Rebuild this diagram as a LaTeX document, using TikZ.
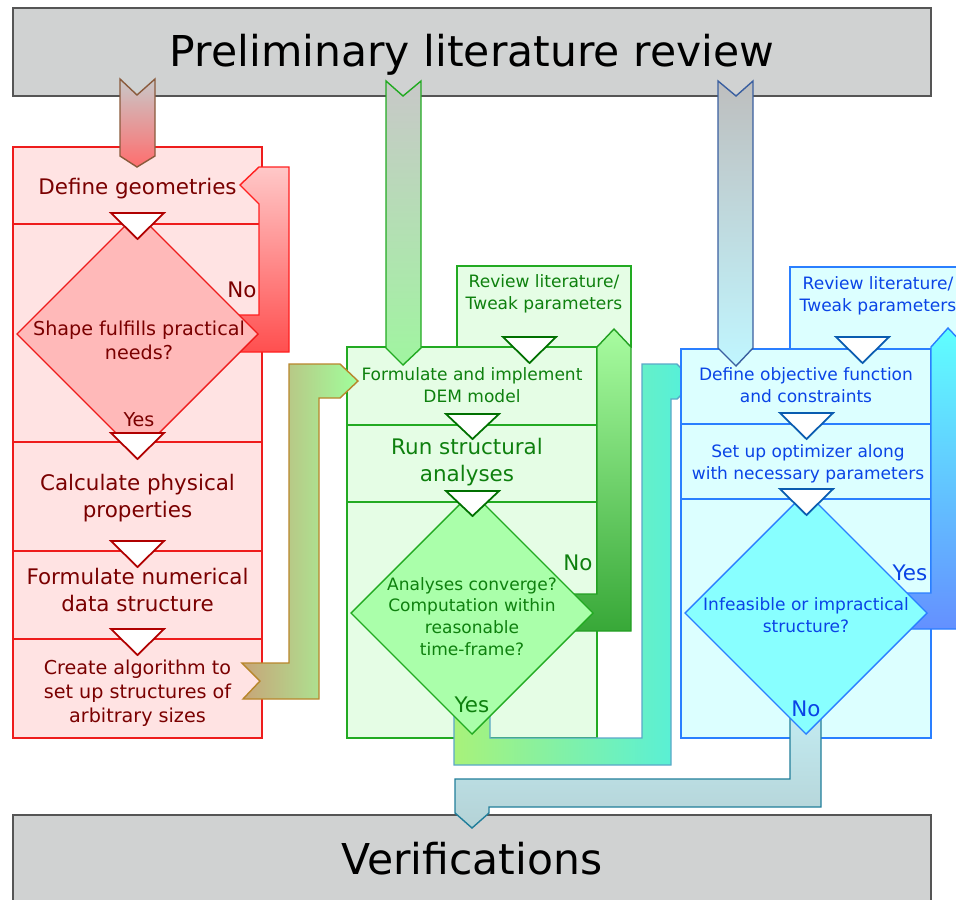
\documentclass[tikz,border=0pt]{standalone}
\usepackage{fontspec}
\setmainfont{DejaVu Sans}

\definecolor{headfill}{HTML}{D0D2D2}
\definecolor{headline}{HTML}{555555}
\definecolor{arrowgray}{HTML}{C8C8C8}
\definecolor{redfill}{HTML}{FFE3E3}
\definecolor{redline}{HTML}{EE1C1C}
\definecolor{redtext}{HTML}{7A0000}
\definecolor{reddiam}{HTML}{FFB9B9}
\definecolor{redtri}{HTML}{B00000}
\definecolor{redarrowline}{HTML}{8A5A3C}
\definecolor{redarrowbot}{HTML}{FF6E6E}
\definecolor{redloopline}{HTML}{FF2020}
\definecolor{redlooptop}{HTML}{FFC8C8}
\definecolor{redloopbot}{HTML}{FF4F4F}
\definecolor{goldline}{HTML}{B8862B}
\definecolor{goldleft}{HTML}{C8A478}
\definecolor{goldright}{HTML}{A0FF9C}
\definecolor{greenfill}{HTML}{E5FDE5}
\definecolor{greenline}{HTML}{22AA22}
\definecolor{greentext}{HTML}{0E800E}
\definecolor{greendiam}{HTML}{AAFFAA}
\definecolor{greentri}{HTML}{007000}
\definecolor{greenarrowbot}{HTML}{A0F5A0}
\definecolor{greenloopline}{HTML}{22A022}
\definecolor{greenlooptop}{HTML}{A8FCA0}
\definecolor{greenloopbot}{HTML}{38A838}
\definecolor{tealline}{HTML}{5AA8C8}
\definecolor{tealleft}{HTML}{A8F27A}
\definecolor{tealright}{HTML}{52F0DE}
\definecolor{bluefill}{HTML}{DCFFFF}
\definecolor{blueline}{HTML}{2A7FFF}
\definecolor{bluetext}{HTML}{0A44E6}
\definecolor{bluediam}{HTML}{88FFFF}
\definecolor{bluetri}{HTML}{0A5CB0}
\definecolor{bluearrowline}{HTML}{3A5FA0}
\definecolor{bluearrowtop}{HTML}{BEBEBE}
\definecolor{bluearrowbot}{HTML}{C0F6FF}
\definecolor{bluelooptop}{HTML}{60FFFF}
\definecolor{blueloopbot}{HTML}{6490FF}
\definecolor{exitline}{HTML}{217E9A}
\definecolor{exittop}{HTML}{C4EEF4}
\definecolor{exitbot}{HTML}{B4D2D6}

\tikzset{
  box_head/.style={draw=headline, fill=headfill, line width=0.8pt},
  box_red/.style={draw=redline, fill=redfill, line width=0.8pt},
  box_green/.style={draw=greenline, fill=greenfill, line width=0.8pt},
  box_blue/.style={draw=blueline, fill=bluefill, line width=0.8pt},
  tri_red/.style={draw=redtri, fill=white, line width=1pt},
  tri_green/.style={draw=greentri, fill=white, line width=1pt},
  tri_blue/.style={draw=bluetri, fill=white, line width=1pt},
  arrow_line/.style={line width=0.8pt, line join=miter},
  txt_head/.style={font=\fontsize{24.2}{29}\selectfont, inner sep=0pt, anchor=base},
  txt_big/.style={font=\fontsize{12.2}{15.1}\selectfont, align=center, inner sep=0pt, anchor=base},
  txt_mid/.style={font=\fontsize{10.9}{13.4}\selectfont, align=center, inner sep=0pt, anchor=base},
  txt_small/.style={font=\fontsize{9.7}{12.3}\selectfont, align=center, inner sep=0pt, anchor=base},
}

\begin{document}
\begin{tikzpicture}[x=0.02cm, y=-0.02cm]
  \useasboundingbox (0,0) rectangle (956,899);
  \clip (0,0) rectangle (956,899);

  % top and bottom bars
  \draw[box_head] (13,8) rectangle (931,96);
  \draw (472,66) node (prelim) [txt_head] {Preliminary literature review};
  \draw[box_head] (13,815) rectangle (931,915);

  % red column
  \draw[box_red] (13,147) rectangle (262,738);
  \draw[redline, line width=0.8pt] (13,224) -- (262,224);
  \draw[redline, line width=0.8pt] (13,442) -- (262,442);
  \draw[redline, line width=0.8pt] (13,551) -- (262,551);
  \draw[redline, line width=0.8pt] (13,639) -- (262,639);
  \draw[arrow_line, draw=redarrowline, top color=arrowgray, bottom color=redarrowbot]
        (120,79) -- (137,95) -- (155,79) -- (155,156) -- (137,167) -- (120,156) -- cycle;
  \draw[arrow_line, draw=redloopline, top color=redlooptop, bottom color=redloopbot]
        (289,167) -- (259,167) -- (240,185) -- (259,204) -- (259,315) -- (225,315) -- (225,352) -- (289,352) -- cycle;
  \draw[redline, fill=reddiam, line width=0.8pt] (17,334) -- (137.5,213.5) -- (258,334) -- (137.5,454.5) -- cycle;
  \draw[tri_red] (111,213) -- (164,213) -- (137.5,239) -- cycle;
  \draw[tri_red] (111,433) -- (164,433) -- (137.5,459) -- cycle;
  \draw[tri_red] (111,541) -- (164,541) -- (137.5,567) -- cycle;
  \draw[tri_red] (111,629) -- (164,629) -- (137.5,655) -- cycle;
  \begin{scope}[text=redtext]
    \draw (137.5,194) node (define_geo) [txt_big] {Define geometries};
    \draw (139,359) node (shape_q) [txt_mid] {Shape fulfills practical\\needs?};
    \draw (242,297) node (no_r) [txt_big] {No};
    \draw (139,426) node (yes_r) [txt_mid] {Yes};
    \draw (137.5,517) node (calc_phys) [txt_big] {Calculate physical\\properties};
    \draw (137.5,611) node (form_num) [txt_big] {Formulate numerical\\data structure};
    \draw (137.5,722) node (create_alg) [txt_mid] {Create algorithm to\\set up structures of\\arbitrary sizes};
  \end{scope}

  % green column
  \draw[box_green] (457,266) rectangle (631,347);
  \draw[box_green] (347,347) rectangle (597,738);
  \draw[greenline, line width=0.8pt] (347,425) -- (597,425);
  \draw[greenline, line width=0.8pt] (347,502) -- (597,502);
  \draw[arrow_line, draw=greenline, top color=arrowgray, bottom color=greenarrowbot]
        (386,81) -- (403,96) -- (421,81) -- (421,348) -- (403,365) -- (386,348) -- cycle;
  \draw[arrow_line, draw=greenloopline, top color=greenlooptop, bottom color=greenloopbot]
        (597,347) -- (614,329) -- (631,347) -- (631,631) -- (560,631) -- (560,594) -- (597,594) -- cycle;
  \draw[arrow_line, draw=goldline, left color=goldleft, right color=goldright]
        (289,364) -- (340,364) -- (358,381) -- (340,398) -- (319,398) -- (319,699) -- (243,699) -- (260,681) -- (242,663) -- (289,663) -- cycle;
  \draw[arrow_line, draw=tealline, left color=tealleft, right color=tealright]
        (454,700) -- (454,765) -- (671,765) -- (671,399) -- (677,399) -- (694,382) -- (677,364) -- (642,364) -- (642,738) -- (490,738) -- (490,700) -- cycle;
  \draw[greenline, fill=greendiam, line width=0.8pt] (351,613) -- (472,492) -- (593,613) -- (472,734) -- cycle;
  \draw[tri_green] (503,337) -- (556,337) -- (529.5,363) -- cycle;
  \draw[tri_green] (446,414) -- (499,414) -- (472.5,439) -- cycle;
  \draw[tri_green] (446,491) -- (499,491) -- (472.5,516) -- cycle;
  \begin{scope}[text=greentext]
    \draw (544,309) node (review_g) [txt_small] {Review literature/\\Tweak parameters};
    \draw (472,402) node (form_dem) [txt_small] {Formulate and implement\\DEM model};
    \draw (467,481) node (run_anal) [txt_big] {Run structural\\analyses};
    \draw (472,655) node (conv_q) [txt_small] {Analyses converge?\\Computation within\\reasonable\\time-frame?};
    \draw (578,570) node (no_g) [txt_big] {No};
    \draw (472,712) node (yes_g) [txt_big] {Yes};
  \end{scope}

  % blue column
  \draw[box_blue] (790,267) rectangle (966,349);
  \draw[box_blue] (681,349) rectangle (931,738);
  \draw[blueline, line width=0.8pt] (681,424) -- (931,424);
  \draw[blueline, line width=0.8pt] (681,499) -- (931,499);
  \draw[arrow_line, draw=bluearrowline, top color=bluearrowtop, bottom color=bluearrowbot]
        (718,81) -- (736,96) -- (753,81) -- (753,348) -- (736,366) -- (718,348) -- cycle;
  \draw[arrow_line, draw=blueline, top color=bluelooptop, bottom color=blueloopbot]
        (931,347) -- (948,328) -- (966,347) -- (966,629) -- (900,629) -- (900,593) -- (931,593) -- cycle;
  \draw[arrow_line, draw=exitline, top color=exittop, bottom color=exitbot]
        (790,700) -- (790,779) -- (455,779) -- (455,813) -- (472,828) -- (489,813) -- (489,807) -- (821,807) -- (821,700) -- cycle;
  \draw[blueline, fill=bluediam, line width=0.8pt] (685,613) -- (806,492) -- (927,613) -- (806,734) -- cycle;
  \draw[tri_blue] (836,337) -- (889,337) -- (862.5,363) -- cycle;
  \draw[tri_blue] (780,413) -- (833,413) -- (806.5,439) -- cycle;
  \draw[tri_blue] (780,489) -- (833,489) -- (806.5,515) -- cycle;
  \begin{scope}[text=bluetext]
    \draw (878,311) node (review_b) [txt_small] {Review literature/\\Tweak parameters};
    \draw (806,402) node (def_obj) [txt_small] {Define objective function\\and constraints};
    \draw (808,479) node (set_opt) [txt_small] {Set up optimizer along\\with necessary parameters};
    \draw (806,632) node (infeas_q) [txt_small] {Infeasible or impractical\\structure?};
    \draw (910,580) node (yes_b) [txt_big] {Yes};
    \draw (806,716) node (no_b) [txt_big] {No};
  \end{scope}

  \draw (472,874) node (verif) [txt_head] {Verifications};
\end{tikzpicture}
\end{document}
